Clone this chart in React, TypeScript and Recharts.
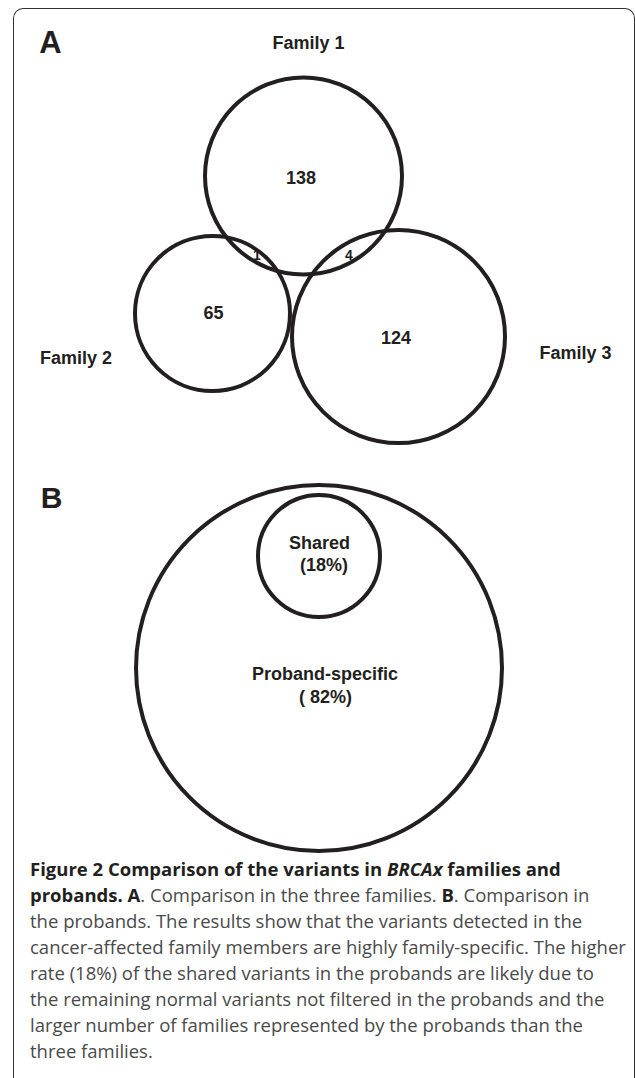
import React from 'react';
import { ScatterChart, Scatter, XAxis, YAxis, ZAxis } from 'recharts';

const W = 635;
const H = 860;

// Venn circles (chart units = pixels)
const circleNames = ['Family 1', 'Family 2', 'Family 3', 'Probands', 'Shared'];
const circleX = [303.5, 212.5, 398.5, 319, 319];
const circleY = [176, 313.5, 336.5, 668, 556];
const circleR = [98.5, 77.5, 106.5, 183, 61];

// Text labels
const labelTexts = ['A', 'Family 1', '138', '1', '4', '65', '124', 'Family 2', 'Family 3', 'B', 'Shared', '(18%)', 'Proband-specific', '( 82%)'];
const labelX = [50.5, 308.5, 301, 257, 349, 213.5, 396, 76, 575.5, 51.5, 319.5, 324, 325, 325.5];
const labelY = [42, 43, 178, 255, 255, 313, 338, 358, 353, 497.5, 543, 565, 674, 697];
const labelSize = [31, 18, 18, 14, 14, 18, 18, 18, 18, 30, 18, 18, 18, 18];

const captionBold1 = 'Figure 2 Comparison of the variants in ';
const captionItalic = 'BRCAx';
const captionBold2 = ' families and';
const captionLines = [
  'the probands. The results show that the variants detected in the',
  'cancer-affected family members are highly family-specific. The higher',
  'rate (18%) of the shared variants in the probands are likely due to',
  'the remaining normal variants not filtered in the probands and the',
  'larger number of families represented by the probands than the',
  'three families.',
];

const circles = circleNames.map((name, i) => ({
  name,
  x: circleX[i],
  y: circleY[i],
  area: Math.PI * circleR[i] * circleR[i],
}));

const labels = labelTexts.map((text, i) => ({
  text,
  x: labelX[i],
  y: labelY[i],
  area: 0,
  fs: labelSize[i],
}));

const CircleShape = (props: any) => {
  const { cx, cy, width, payload } = props;
  const r = width && !isNaN(width) ? width / 2 : Math.sqrt(payload.area / Math.PI);
  return <circle cx={cx} cy={cy} r={r} fill="none" stroke="#231f20" strokeWidth={4} />;
};

const LabelShape = (props: any) => {
  const { cx, cy, payload } = props;
  return (
    <text
      x={cx}
      y={cy}
      textAnchor="middle"
      dominantBaseline="central"
      fontFamily="'Liberation Sans', Arial, sans-serif"
      fontWeight="bold"
      fontSize={payload.fs}
      fill="#231f20"
    >
      {payload.text}
    </text>
  );
};

export default function App() {
  return (
    <div style={{ position: 'absolute', left: 0, top: 0, width: 635, height: 1078, overflow: 'hidden', background: '#fff' }}>
      <div
        style={{
          position: 'absolute',
          left: 13,
          top: 8,
          width: 620,
          height: 1100,
          border: '1.5px solid #333',
          borderBottom: 'none',
          borderRadius: '10px 10px 0 0',
        }}
      />
      <div style={{ position: 'absolute', left: 0, top: 0 }}>
        <ScatterChart width={W} height={H} margin={{ top: 0, right: 0, bottom: 0, left: 0 }}>
          <XAxis type="number" dataKey="x" domain={[0, W]} allowDataOverflow hide />
          <YAxis type="number" dataKey="y" domain={[0, H]} allowDataOverflow reversed hide />
          <ZAxis type="number" dataKey="area" domain={[0, 200000]} range={[0, 200000]} />
          <Scatter data={circles} shape={CircleShape} isAnimationActive={false} />
          <Scatter data={labels} shape={LabelShape} isAnimationActive={false} />
        </ScatterChart>
      </div>
      <div
        style={{
          position: 'absolute',
          left: 30,
          top: 856,
          fontFamily: "'Open Sans', sans-serif",
          fontSize: 18.5,
          lineHeight: '26px',
          color: '#4a4a4a',
          whiteSpace: 'nowrap',
        }}
      >
        <div style={{ color: '#231f20', fontWeight: 'bold' }}>
          {captionBold1}
          <i>{captionItalic}</i>
          {captionBold2}
        </div>
        <div>
          <b style={{ color: '#231f20' }}>probands. A</b>. Comparison in the three families. <b style={{ color: '#231f20' }}>B</b>. Comparison in
        </div>
        {captionLines.map((l, i) => (
          <div key={i}>{l}</div>
        ))}
      </div>
    </div>
  );
}
